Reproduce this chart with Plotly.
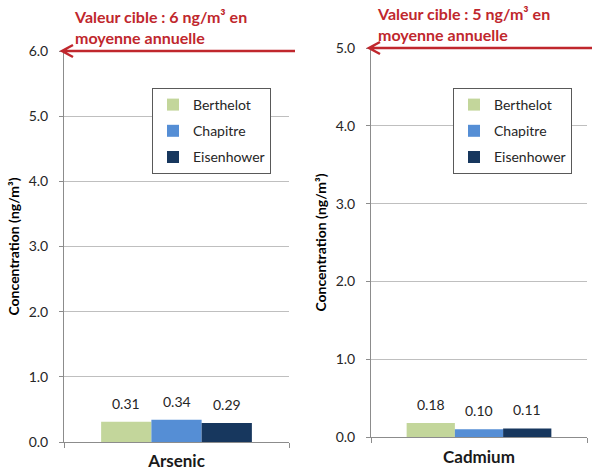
import plotly.graph_objects as go

# ---- data -------------------------------------------------------------
sites = ["Berthelot", "Chapitre", "Eisenhower"]
site_colors = ["#C3D69B", "#558ED5", "#17375E"]

arsenic_label = "Arsenic"
arsenic_values = [0.31, 0.34, 0.29]
arsenic_target = 6.0
arsenic_ticks = [0.0, 1.0, 2.0, 3.0, 4.0, 5.0, 6.0]

cadmium_label = "Cadmium"
cadmium_values = [0.18, 0.10, 0.11]
cadmium_target = 5.0
cadmium_ticks = [0.0, 1.0, 2.0, 3.0, 4.0, 5.0]

target_text = "Valeur cible : {} ng/m³ en<br>moyenne annuelle"
y_title = "Concentration (ng/m³)"

# ---- layout helpers -----------------------------------------------------
W, H = 592, 476
FONT = "Lato"
RED = "#C0272D"
BARGAP = 0.33


def px(x):
    return x / W


def py(y):
    return 1 - y / H


panels = [
    dict(label=arsenic_label, values=arsenic_values, target=arsenic_target,
         ticks=arsenic_ticks, xd=(px(64), px(289)), yd=(py(442), py(51)),
         xa="x", ya="y", legend="legend", lx=px(152), tx=8, tail=px(295),
         lab_off=4),
    dict(label=cadmium_label, values=cadmium_values, target=cadmium_target,
         ticks=cadmium_ticks, xd=(px(371), px(587)), yd=(py(437), py(48)),
         xa="x2", ya="y2", legend="legend2", lx=px(453), tx=4, tail=1.0,
         lab_off=5),
]

fig = go.Figure()
annotations = []
shapes = []

for k, p in enumerate(panels):
    for i, (name, val, col) in enumerate(zip(sites, p["values"], site_colors)):
        fig.add_trace(go.Bar(
            x=[p["label"]], y=[val], name=name,
            marker=dict(color=col, line=dict(width=0)),
            xaxis=p["xa"], yaxis=p["ya"], legend=p["legend"],
            legendgroup=f"{k}-{name}",
            hoverinfo="skip",
        ))
        # value label above each bar
        slot = (1 - BARGAP) / len(sites)
        annotations.append(dict(
            xref=p["xa"], yref=p["ya"],
            x=(i - (len(sites) - 1) / 2) * slot, y=val,
            text=f"{val:.2f}", showarrow=False,
            yanchor="bottom", yshift=8,
            font=dict(family=FONT, size=14, color="#262626"),
        ))

    # target arrow at the top of the axis
    y0, y1 = p["yd"]
    ty = y0 + (p["target"] / p["ticks"][-1]) * (y1 - y0)
    tip_x = p["xd"][0] - px(2)
    dx, dy = px(11), 6 / H
    shapes.append(dict(
        type="path", xref="paper", yref="paper",
        path=(f"M {p['tail']},{ty} L {tip_x},{ty} "
              f"M {tip_x + dx},{ty + dy} L {tip_x},{ty} L {tip_x + dx},{ty - dy}"),
        line=dict(color=RED, width=2.5),
    ))
    annotations.append(dict(
        xref="paper", yref="paper",
        x=p["xd"][0] + px(p["tx"]), y=ty + 2 / H,
        xanchor="left", yanchor="bottom", align="left",
        text=target_text.format(int(p["target"])), showarrow=False,
        font=dict(family=FONT, size=16, color=RED, weight="bold"),
    ))

axis_common = dict(
    showline=True, linecolor="#8C8C8C", linewidth=1, automargin=False,
)

for k, p in enumerate(panels):
    sx = "" if k == 0 else "2"
    fig.update_layout(**{
        f"xaxis{sx}": dict(
            domain=p["xd"], anchor=p["ya"], type="category",
            range=[-0.5, 0.5], ticks="outside", tickson="boundaries",
            ticklen=5, tickcolor="#8C8C8C", showgrid=False,
            tickfont=dict(family=FONT, size=17, color="#1a1a1a", weight="bold"),
            ticklabelstandoff=p["lab_off"],
            **axis_common,
        ),
        f"yaxis{sx}": dict(
            domain=p["yd"], anchor=p["xa"],
            range=[0, p["ticks"][-1]], tickvals=p["ticks"],
            ticktext=[f"{t:.1f}" for t in p["ticks"]],
            ticks="outside", ticklen=4, tickcolor="#8C8C8C",
            showgrid=True, gridcolor="#BFBFBF", gridwidth=1,
            zeroline=False,
            tickfont=dict(family=FONT, size=14, color="#262626"),
            ticklabelstandoff=8,
            title=dict(text=y_title, standoff=5,
                       font=dict(family=FONT, size=14, color="#000000", weight="bold")),
            **axis_common,
        ),
    })

legend_style = dict(
    yanchor="top", xanchor="left", y=py(88),
    bgcolor="#FFFFFF", bordercolor="#595959", borderwidth=1,
    font=dict(family=FONT, size=14, color="#262626"),
    tracegroupgap=5, itemclick=False, itemdoubleclick=False,
)

fig.update_layout(
    width=W, height=H,
    margin=dict(l=0, r=0, t=0, b=0, autoexpand=False),
    paper_bgcolor="#FFFFFF", plot_bgcolor="#FFFFFF",
    barmode="group", bargap=BARGAP, bargroupgap=0,
    legend=dict(x=panels[0]["lx"], **legend_style),
    legend2=dict(x=panels[1]["lx"], **legend_style),
    annotations=annotations, shapes=shapes,
    showlegend=True,
)

fig.write_html("out.html")
